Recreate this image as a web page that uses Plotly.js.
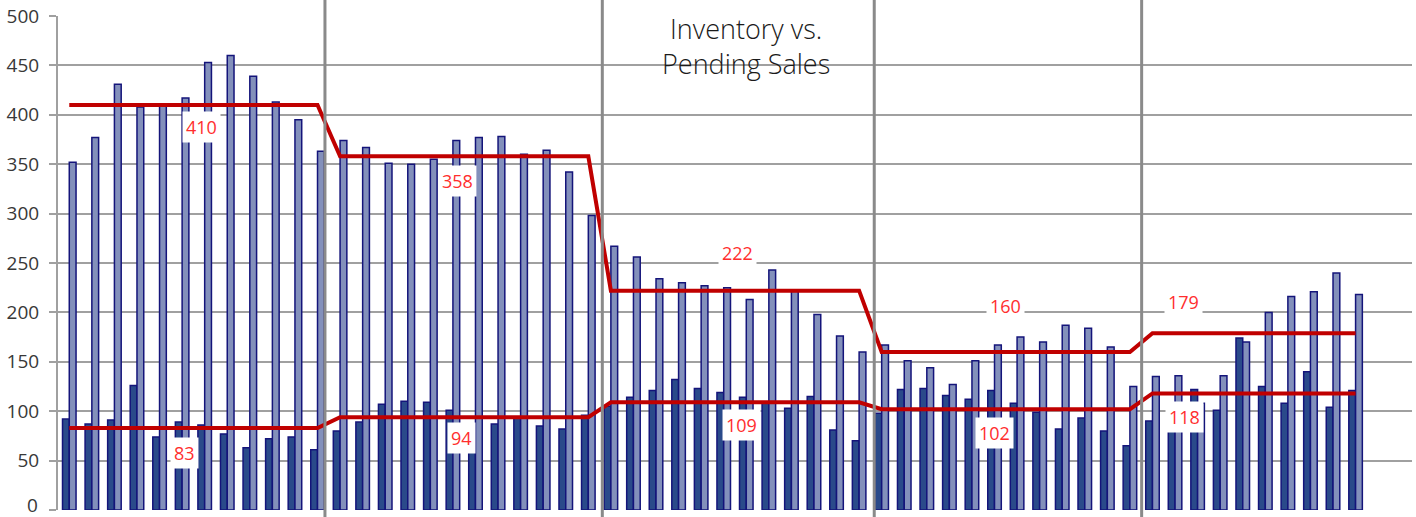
<!DOCTYPE html>
<html>
<head>
<meta charset="utf-8">
<script src="https://cdn.plot.ly/plotly-3.0.1.min.js"></script>
<style>
  html, body { margin: 0; padding: 0; background: #ffffff; }
  #chart { width: 1416px; height: 517px; }
</style>
</head>
<body>
<div id="chart"></div>
<script>
// ---- Data ----
// 60 monthly slots (5 years x 12), last two months of the final year empty
const months = Array.from({length: 58}, (_, i) => i);
const pendingSales = [
  92, 87, 91, 126, 74, 89, 86, 77, 63, 72, 74, 61,
  80, 89, 107, 110, 109, 101, 87, 87, 93, 85, 82, 96,
  105, 114, 121, 132, 123, 119, 114, 108, 103, 115, 81, 70,
  98, 122, 123, 116, 112, 121, 108, 99, 82, 93, 80, 65,
  90, 95, 122, 101, 174, 125, 108, 140, 104, 121
];
const inventory = [
  352, 377, 431, 408, 411, 417, 453, 460, 439, 413, 395, 363,
  374, 367, 351, 350, 355, 374, 377, 378, 360, 364, 342, 298,
  267, 256, 234, 230, 227, 225, 213, 243, 222, 198, 176, 160,
  167, 151, 144, 127, 151, 167, 175, 170, 187, 184, 165, 125,
  135, 136, 108, 136, 170, 200, 216, 221, 240, 218
];
const inventoryAvg = [410, 358, 222, 160, 179];
const pendingAvg = [83, 94, 109, 102, 118];
const yTicks = [0, 50, 100, 150, 200, 250, 300, 350, 400, 450, 500];

// step lines built from yearly averages
const invLine = months.map(i => inventoryAvg[Math.floor(i / 12)]);
const pendLine = months.map(i => pendingAvg[Math.floor(i / 12)]);

// ---- Layout constants ----
const separatorsX = [11.33, 23.62, 35.67, 47.52];
const invLabelPos = [[5.88, 387.6], [17.2, 333], [29.6, 260.4], [41.5, 206.5], [49.37, 210.2]];
const pendLabelPos = [[5.12, 58.2], [17.36, 72.9], [29.78, 86.5], [40.99, 77.9], [49.41, 94.4]];

const navy = '#14147a';
const traces = [
  {
    type: 'bar', x: months, y: pendingSales, name: 'Pending Sales',
    marker: {color: '#2a4a8a', line: {color: navy, width: 1.5}},
    hoverinfo: 'skip'
  },
  {
    type: 'bar', x: months, y: inventory, name: 'Inventory',
    marker: {color: '#8390bb', line: {color: navy, width: 1.5}},
    hoverinfo: 'skip'
  },
  {
    type: 'scatter', mode: 'lines', x: months, y: invLine,
    line: {color: '#c00000', width: 4}, hoverinfo: 'skip'
  },
  {
    type: 'scatter', mode: 'lines', x: months, y: pendLine,
    line: {color: '#c00000', width: 4}, hoverinfo: 'skip'
  }
];

const tickFont = {family: 'Open Sans, sans-serif', size: 19, color: '#383838'};
const labelFont = {family: 'Open Sans, sans-serif', size: 18, color: '#ff2e2e'};
const annotations = [];
inventoryAvg.forEach((v, k) => annotations.push({
  x: invLabelPos[k][0], y: invLabelPos[k][1], xref: 'x', yref: 'y',
  text: String(v), showarrow: false, font: labelFont,
  bgcolor: '#ffffff', borderpad: 3, xanchor: 'center', yanchor: 'middle'
}));
pendingAvg.forEach((v, k) => annotations.push({
  x: pendLabelPos[k][0], y: pendLabelPos[k][1], xref: 'x', yref: 'y',
  text: String(v), showarrow: false, font: labelFont,
  bgcolor: '#ffffff', borderpad: 3, xanchor: 'center', yanchor: 'middle'
}));
annotations.push({
  x: 30, y: 470, xref: 'x', yref: 'y',
  text: 'Inventory vs.<br>Pending Sales', showarrow: false,
  font: {family: 'Open Sans, sans-serif', size: 27, color: '#1a1a1a', weight: 300},
  xanchor: 'center', yanchor: 'middle', align: 'center'
});
// the "0" tick label, nudged up slightly so it stays inside the picture
annotations.push({
  x: -19 / 1354, y: yTicks[0], xref: 'paper', yref: 'y',
  text: String(yTicks[0]), showarrow: false, font: tickFont,
  xanchor: 'right', yanchor: 'bottom', yshift: -9, borderpad: 0
});

const shapes = separatorsX.map(sx => ({
  type: 'line', xref: 'x', yref: 'paper', x0: sx, x1: sx, y0: -0.03, y1: 1.04,
  line: {color: '#8a8a8a', width: 3}, layer: 'above'
}));

const layout = {
  width: 1416, height: 517,
  margin: {l: 58, r: 4, t: 16, b: 7},
  paper_bgcolor: '#ffffff', plot_bgcolor: '#ffffff',
  showlegend: false,
  barmode: 'group', bargap: 0.40, bargroupgap: 0,
  hovermode: false,
  xaxis: {
    range: [-0.5, 59.5], showticklabels: false, ticks: '',
    showgrid: false, zeroline: false, showline: false
  },
  yaxis: {
    range: [0, 500], tickvals: yTicks,
    ticktext: yTicks.map((v, i) => i === 0 ? '' : String(v)),
    showgrid: true, gridcolor: '#a0a0a0', gridwidth: 2,
    zeroline: false, showline: true, linecolor: '#a0a0a0', linewidth: 2,
    ticks: 'outside', ticklen: 7, tickcolor: '#a0a0a0', tickwidth: 2,
    ticklabelstandoff: 6,
    tickfont: tickFont
  },
  annotations: annotations,
  shapes: shapes
};

Plotly.newPlot('chart', traces, layout, {displayModeBar: false, staticPlot: true});
</script>
</body>
</html>
